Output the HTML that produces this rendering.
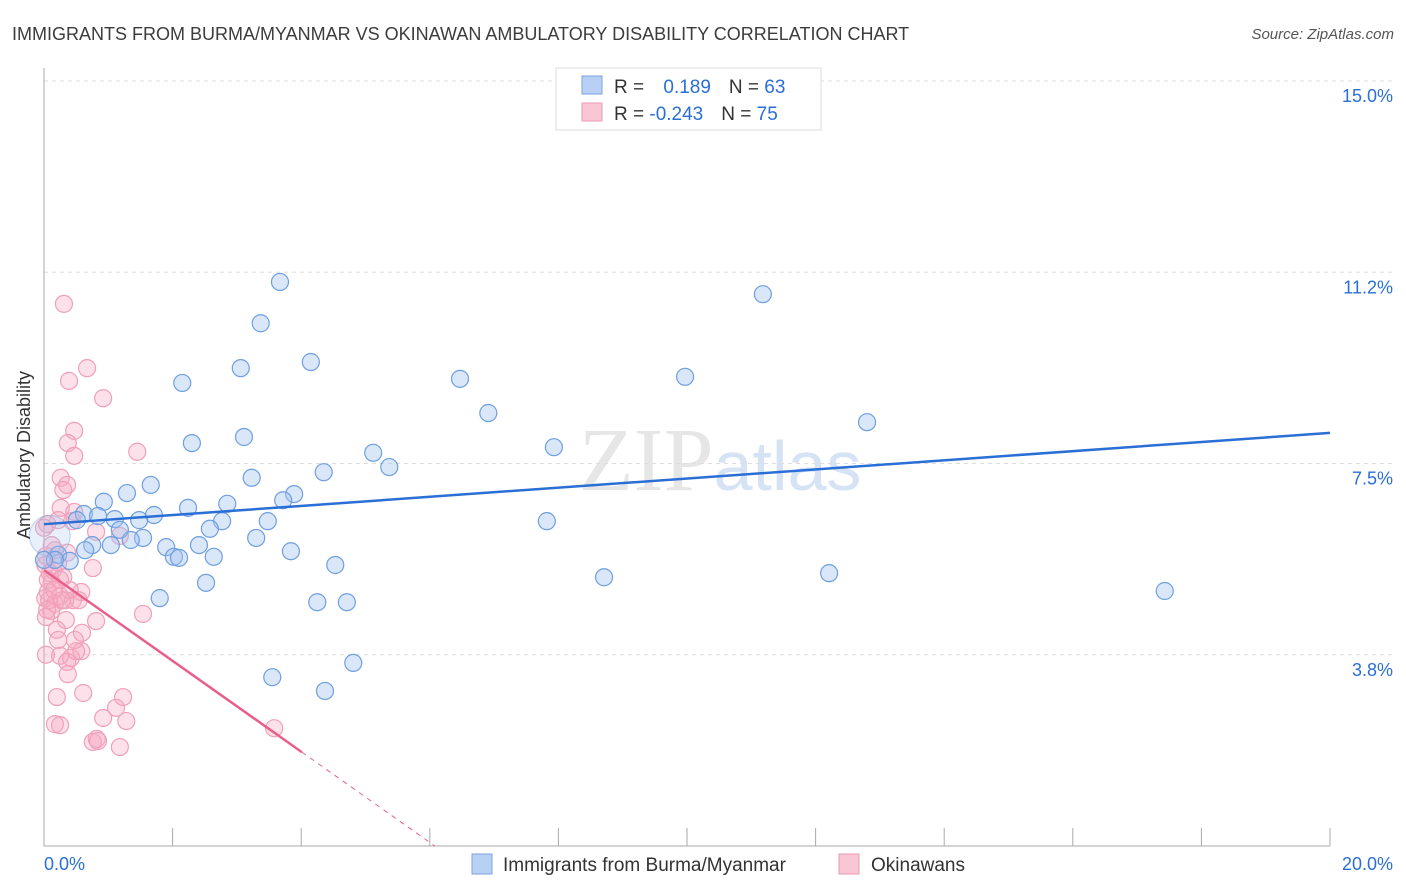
<!DOCTYPE html>
<html><head><meta charset="utf-8">
<style>
body{margin:0;background:#fff;font-family:"Liberation Sans",sans-serif;}
svg{display:block}
</style></head>
<body>
<svg id="chart" width="1406" height="892">
<text x="12" y="40" font-size="18" fill="#3c3c3c">IMMIGRANTS FROM BURMA/MYANMAR VS OKINAWAN AMBULATORY DISABILITY CORRELATION CHART</text>
<text x="1394" y="39" font-size="15" fill="#555" font-style="italic" text-anchor="end">Source: ZipAtlas.com</text>
<text x="720" y="490" font-size="90" fill="#e6e6e6" text-anchor="middle" font-family="Liberation Serif,serif">ZIP<tspan fill="#d5e3f5" font-family="Liberation Sans,sans-serif" font-size="70">atlas</tspan></text>
<g id="grid"></g>
<g id="axes"></g>
<g id="pts"></g>
<g id="trend"></g>
<g>
<rect x="556" y="68" width="265" height="62" fill="#fff" stroke="#ddd"/>
<rect x="582" y="76" width="20" height="18" fill="#b8d0f4" stroke="#7aa5e0"/>
<text x="614" y="93" font-size="19" fill="#333">R = <tspan fill="#2a6fd6" dx="14">0.189</tspan><tspan dx="18" fill="#333">N = </tspan><tspan fill="#2a6fd6">63</tspan></text>
<rect x="582" y="103" width="20" height="18" fill="#f8c6d4" stroke="#ee9ab2"/>
<text x="614" y="120" font-size="19" fill="#333">R = <tspan fill="#2a6fd6">-0.243</tspan><tspan dx="18" fill="#333">N = </tspan><tspan fill="#2a6fd6">75</tspan></text>
</g>
<text x="30" y="455" font-size="18" fill="#333" transform="rotate(-90 30 455)" text-anchor="middle">Ambulatory Disability</text>
<g>
<rect x="472" y="854" width="20" height="20" fill="#b8d0f4" stroke="#7aa5e0"/>
<text x="503" y="871" font-size="19" fill="#333">Immigrants from Burma/Myanmar</text>
<rect x="839" y="854" width="20" height="20" fill="#f8c6d4" stroke="#ee9ab2"/>
<text x="871" y="871" font-size="19" fill="#333">Okinawans</text>
</g>
</svg>
<script>
const yTicks=[3.75,7.5,11.25,15];
const yTickLabels=["3.8%","7.5%","11.2%","15.0%"];
const xTickLabels=["0.0%","20.0%"];
const blueX=[3.67,11.18,3.37,3.06,4.15,2.15,6.47,9.97,6.91,12.80,2.30,3.11,7.93,5.12,5.37,4.35,3.23,1.66,1.29,0.93,3.89,3.72,2.85,2.24,0.62,0.84,1.10,1.71,1.48,0.51,3.48,2.77,7.82,1.18,2.58,1.54,1.35,3.30,0.75,1.04,1.90,2.41,3.84,0.64,2.02,2.10,2.64,0.22,0.40,4.53,8.71,12.21,2.52,17.43,1.80,4.25,4.71,4.81,3.55,4.37,0.09,0.17,0.0];
const blueY=[11.06,10.82,10.25,9.37,9.49,9.08,9.16,9.20,8.49,8.31,7.90,8.02,7.82,7.71,7.43,7.33,7.22,7.08,6.92,6.75,6.90,6.78,6.71,6.63,6.51,6.47,6.41,6.49,6.39,6.39,6.37,6.37,6.37,6.20,6.22,6.04,6.00,6.04,5.90,5.90,5.86,5.90,5.78,5.80,5.67,5.65,5.67,5.71,5.59,5.51,5.27,5.35,5.16,5.00,4.86,4.78,4.78,3.59,3.31,3.04,6.08,5.61,5.61];
const blueSize=[1,1,1,1,1,1,1,1,1,1,1,1,1,1,1,1,1,1,1,1,1,1,1,1,1,1,1,1,1,1,1,1,1,1,1,1,1,1,1,1,1,1,1,1,1,1,1,1,1,1,1,1,1,1,1,1,1,1,1,1,2.4,1,1];
const pinkX=[0.31,0.67,0.39,0.92,0.47,0.37,0.47,1.45,0.26,0.36,0.30,1.18,0.81,0.26,0.47,0.22,0.05,0.44,0.17,0.36,0.03,0.22,0.09,0.30,0.76,0.12,0.58,0.06,0.25,0.02,0.45,0.17,0.54,1.54,0.11,0.81,0.03,0.34,0.20,0.59,0.48,0.03,0.25,0.42,0.36,0.58,0.50,0.37,0.20,0.61,1.23,1.12,0.92,1.28,0.17,0.25,0.82,0.76,0.84,1.18,3.58,0.00,0.12,0.08,0.06,0.14,0.33,0.40,0.05,0.22,0.28,0.16,0.02,0.25];
const pinkY=[10.63,9.37,9.12,8.78,8.14,7.90,7.65,7.73,7.22,7.08,6.98,6.08,6.16,6.63,6.55,6.39,6.31,6.37,5.80,5.75,5.69,5.55,5.35,5.27,5.45,5.16,4.98,4.98,4.90,4.86,4.82,4.75,4.82,4.55,4.61,4.41,4.49,4.43,4.24,4.18,4.04,3.75,3.73,3.69,3.61,3.82,3.82,3.37,2.92,3.00,2.92,2.71,2.51,2.45,2.39,2.37,2.10,2.04,2.06,1.94,2.31,6.24,5.90,4.82,5.22,5.41,4.82,5.02,4.63,4.04,4.82,5.02,5.51,5.22];
const blueTrend=[6.31,8.10];
const pinkTrend=[5.41,-0.89];
const NS="http://www.w3.org/2000/svg";
const X=v=>44+v*64.3, Y=v=>846-v*51;
function mk(t,a,p){const e=document.createElementNS(NS,t);for(const k in a)e.setAttribute(k,a[k]);p.appendChild(e);return e;}
const grid=document.getElementById('grid'),axes=document.getElementById('axes'),pts=document.getElementById('pts'),tr=document.getElementById('trend');
yTicks.forEach((t,i)=>{
 const l=mk('line',{x1:44,x2:1393,y1:Y(t),y2:Y(t),stroke:'#ddd','stroke-dasharray':'4,4'},grid);
 
 
 const tx=mk('text',{x:1393,y:Y(t)+21,'font-size':18,fill:'#2a6fd6','text-anchor':'end'},grid);
 tx.textContent=yTickLabels[i];
 
 
});
const va=mk('line',{x1:44,x2:44,y1:68,y2:846,stroke:'#aaa'},axes);


const ha=mk('line',{x1:44,x2:1330,y1:846,y2:846,stroke:'#aaa'},axes);


for(let i=0;i<=10;i++){const t=mk('line',{x1:X(i*2),x2:X(i*2),y1:828,y2:846,stroke:'#aaa'},axes);
 
 }
[[0,'start',44],[20,'end',1393]].forEach((d,i)=>{const t=mk('text',{x:d[2],y:870,'font-size':18,fill:'#2a6fd6','text-anchor':d[1]},axes);t.textContent=xTickLabels[i];
 
 });
pinkX.forEach((x,i)=>{const c=mk('circle',{cx:X(x),cy:Y(pinkY[i]),r:8.5,fill:'rgba(246,170,195,0.35)',stroke:'#f0a0b8','stroke-width':1.2},pts);
 
 });
blueX.forEach((x,i)=>{const big=blueSize[i]>1;const c=mk('circle',{cx:X(x),cy:Y(blueY[i]),r:8.5*blueSize[i],fill:big?'rgba(160,195,240,0.25)':'rgba(160,195,240,0.4)',stroke:big?'rgba(111,159,224,0.4)':'#6f9fe0','stroke-width':1.2},pts);
 
 });
const bl=mk('line',{x1:X(0),y1:Y(blueTrend[0]),x2:X(20),y2:Y(blueTrend[1]),stroke:'#2a6fd6','stroke-width':2.5},tr);


const pe=4.01, pz=-pinkTrend[0]/pinkTrend[1];
const pl=mk('line',{x1:X(0),y1:Y(pinkTrend[0]),x2:X(pe),y2:Y(pinkTrend[0]+pinkTrend[1]*pe),stroke:'#e8608a','stroke-width':2.5},tr);


const pd=mk('line',{x1:X(pe),y1:Y(pinkTrend[0]+pinkTrend[1]*pe),x2:X(pz),y2:Y(0),stroke:'#e8608a','stroke-width':1,'stroke-dasharray':'5,5'},tr);


</script>
</body></html>
